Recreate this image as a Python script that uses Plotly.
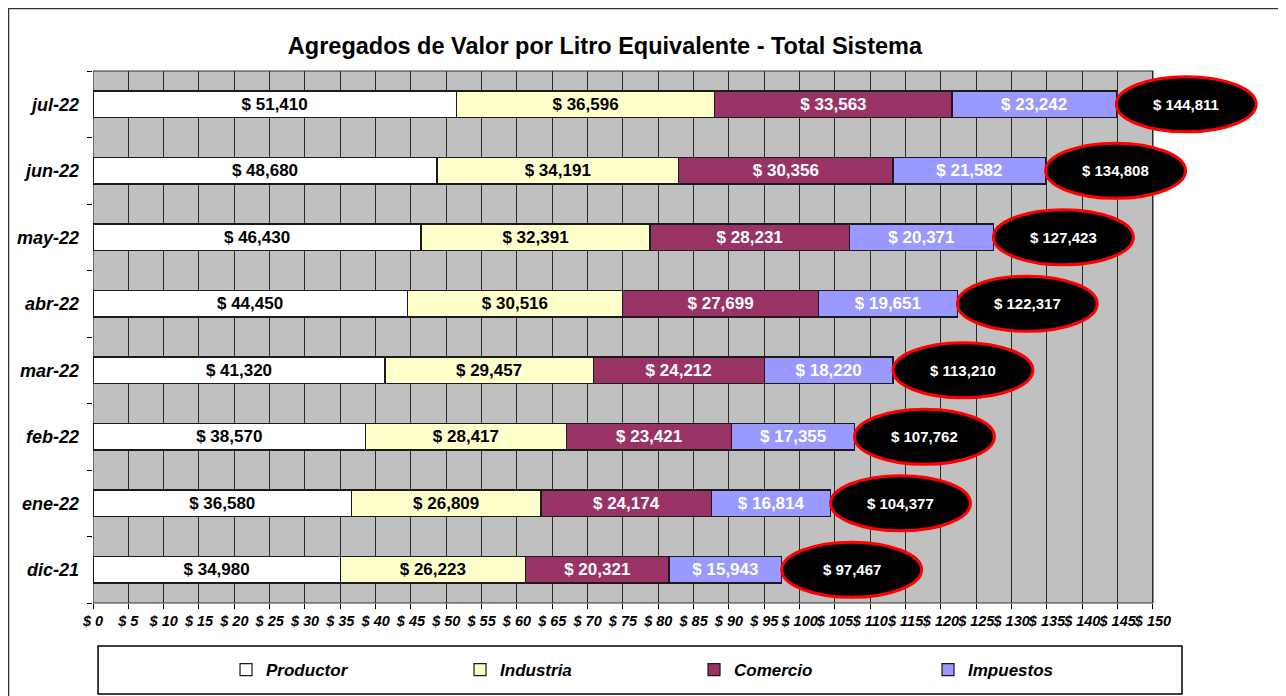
import plotly.graph_objects as go

# ---- data (values in thousands, displayed with comma as decimal mark) ----
months = ["jul-22", "jun-22", "may-22", "abr-22", "mar-22", "feb-22", "ene-22", "dic-21"]
productor = [51.410, 48.680, 46.430, 44.450, 41.320, 38.570, 36.580, 34.980]
industria = [36.596, 34.191, 32.391, 30.516, 29.457, 28.417, 26.809, 26.223]
comercio = [33.563, 30.356, 28.231, 27.699, 24.212, 23.421, 24.174, 20.321]
impuestos = [23.242, 21.582, 20.371, 19.651, 18.220, 17.355, 16.814, 15.943]
totales = [144.811, 134.808, 127.423, 122.317, 113.210, 107.762, 104.377, 97.467]
x_ticks = list(range(0, 151, 5))
x_tick_labels = ["$ " + str(v) for v in x_ticks]

series = [
    ("Productor", productor, "#FFFFFF", "#000000"),
    ("Industria", industria, "#FFFFCC", "#000000"),
    ("Comercio", comercio, "#993366", "#FFFFFF"),
    ("Impuestos", impuestos, "#9999FF", "#FFFFFF"),
]

FONT = "Liberation Sans, Arial, sans-serif"

fig = go.Figure()
for name, vals, color, tcolor in series:
    fig.add_trace(go.Bar(
        y=months, x=vals, name=name, orientation="h",
        marker=dict(color=color, line=dict(color="#1a1a1a", width=1.2)),
        texttemplate="$ %{x:.3f}", textposition="inside",
        insidetextanchor="middle", textangle=0, constraintext="none",
        textfont=dict(family=FONT, size=17, color=tcolor, weight="bold"),
        hoverinfo="skip",
    ))

cat_order = months[::-1]  # dic-21 at bottom
shapes = []
# grey plotting background, 0..150
shapes.append(dict(type="rect", xref="x", yref="y domain", x0=0, x1=150, y0=0, y1=1,
                   fillcolor="#C0C0C0", line=dict(color="#333333", width=1.2), layer="below"))
annotations = []
ELL_W = 19.8
for m, t in zip(months, totales):
    idx = cat_order.index(m)
    shapes.append(dict(type="circle", xref="x", yref="y", x0=t, x1=t + ELL_W,
                       y0=idx - 0.415, y1=idx + 0.415, fillcolor="#000000",
                       line=dict(color="#FF0000", width=3), layer="above"))
    annotations.append(dict(x=t + ELL_W / 2, y=m, xref="x", yref="y", showarrow=False,
                            text="$ " + f"{t:.3f}".replace(".", ","),
                            font=dict(family=FONT, size=15, color="#FFFFFF", weight="bold")))

# legend box
shapes.append(dict(type="rect", xref="paper", yref="paper", x0=0.0043, x1=0.9284,
                   y0=-0.171, y1=-0.0808, line=dict(color="#000000", width=1.5),
                   fillcolor="rgba(0,0,0,0)"))
# outer chart border
shapes.append(dict(type="rect", xref="paper", yref="paper", x0=-0.0720, x1=1.0145,
                   y0=-0.20, y1=1.1175, line=dict(color="#333333", width=1.5),
                   fillcolor="rgba(0,0,0,0)"))

fig.update_layout(
    barmode="stack", bargap=0.6,
    width=1278, height=688,
    margin=dict(l=85, r=20, t=63, b=93, autoexpand=False),
    paper_bgcolor="#FFFFFF", plot_bgcolor="#FFFFFF",
    separators=",.",
    font=dict(family=FONT, color="#000000"),
    title=dict(text="<b>Agregados de Valor por Litro Equivalente - Total Sistema</b>",
               x=0.4671, xanchor="center", y=0.9448, yanchor="middle",
               font=dict(family=FONT, size=23.5, color="#000000")),
    xaxis=dict(range=[0, 166], tickvals=x_ticks, ticktext=x_tick_labels, tickangle=0,
               showgrid=True, gridcolor="#2a2a2a", gridwidth=1.3,
               zeroline=False, showline=False, automargin=False,
               ticks="outside", ticklen=5, tickcolor="#000000", tickwidth=1.2,
               tickfont=dict(family=FONT, size=14.5, color="#000000", weight="bold", style="italic")),
    yaxis=dict(categoryorder="array", categoryarray=cat_order,
               showgrid=False, zeroline=False, showline=False, automargin=False,
               ticks="outside", ticklen=5, tickcolor="#000000", tickwidth=1.2,
               tickson="boundaries", ticklabelstandoff=13,
               tickfont=dict(family=FONT, size=18, color="#000000", weight="bold", style="italic")),
    legend=dict(orientation="h", x=0.1134, xanchor="left", y=-0.126, yanchor="middle",
                entrywidth=189, entrywidthmode="pixels", traceorder="normal",
                bgcolor="rgba(0,0,0,0)", borderwidth=0,
                font=dict(family=FONT, size=17, color="#000000", weight="bold", style="italic")),
    shapes=shapes,
    annotations=annotations,
    showlegend=True,
)

fig.write_html("out.html")
